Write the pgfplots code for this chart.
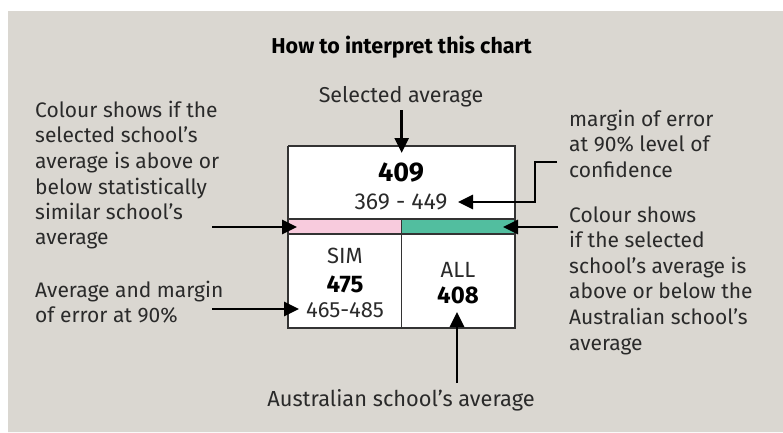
\documentclass[border=0pt]{standalone}
\usepackage{pgfplots}
\pgfplotsset{compat=1.18}
\usepackage{fontspec}
\setmainfont{Fira Sans}
\usetikzlibrary{arrows.meta}
\definecolor{bg}{HTML}{DAD7D1}
\definecolor{pinkc}{HTML}{F8CBDD}
\definecolor{greenc}{HTML}{52BE9F}
\definecolor{txt}{HTML}{2A2A2A}
\definecolor{boxline}{HTML}{333333}
\tikzset{lt/.style={anchor=base west,font=\fontsize{21}{25}\selectfont,inner sep=0pt,text=txt},
  ct/.style={anchor=base,inner sep=0pt,text=txt}}
\pgfplotsset{arr/.style={black,line width=2.8pt,-{Triangle[length=15pt,width=14pt]}}}
\begin{document}
\begin{tikzpicture}
\begin{axis}[width=783pt,height=432pt,scale only axis,hide axis,
  xmin=0,xmax=783,ymin=0,ymax=432,y dir=reverse,clip=false]
% page and panel
\addplot[fill=white,draw=none] coordinates {(0,0)(783,0)(783,432)(0,432)(0,0)};
\addplot[fill=bg,draw=none] coordinates {(8,11)(783,11)(783,432)(8,432)(8,11)};
% box
\addplot[fill=white,draw=none] coordinates {(288,146)(515,146)(515,328)(288,328)(288,146)};
\addplot[fill=pinkc,draw=none] coordinates {(288,219)(401.7,219)(401.7,234)(288,234)(288,219)};
\addplot[fill=greenc,draw=none] coordinates {(401.7,219)(515,219)(515,234)(401.7,234)(401.7,219)};
\addplot[draw=boxline,line width=1.3pt] coordinates {(288,146)(515,146)(515,328)(288,328)(288,146)};
\addplot[draw=boxline,line width=1.3pt] coordinates {(288,219)(515,219)};
\addplot[draw=boxline,line width=1.3pt] coordinates {(288,234)(515,234)};
\addplot[draw=boxline,line width=1.3pt] coordinates {(401.7,219)(401.7,328)};
% arrows
\addplot[arr] coordinates {(401.7,110)(401.7,153)};
\addplot[arr] coordinates {(557,162)(535,162)(535,202)(458,202)};
\addplot[arr] coordinates {(212,227)(297,227)};
\addplot[arr] coordinates {(558,227)(503,227)};
\addplot[arr] coordinates {(212,309)(299,309)};
\addplot[arr] coordinates {(457,383)(457,312)};
% texts
\node[ct,font=\fontsize{21.5}{25}\selectfont\bfseries,text=black] at (axis cs:401.5,53) {How to interpret this chart};
\node[ct,font=\fontsize{21.5}{25}\selectfont] at (axis cs:401,102) {Selected average};
\node[ct,font=\fontsize{21.8}{25}\selectfont] at (axis cs:401,406) {Australian school’s average};
% box texts
\node[ct,font=\fontsize{27}{30}\selectfont\bfseries,text=black] at (axis cs:401,181) {409};
\node[ct,font=\fontsize{23}{26}\selectfont] at (axis cs:401,209) {369 - 449};
\node[ct,font=\fontsize{22}{26}\selectfont] at (axis cs:345,263) {SIM};
\node[ct,font=\fontsize{24}{26}\selectfont\bfseries,text=black] at (axis cs:345,292) {475};
\node[ct,font=\fontsize{22}{26}\selectfont] at (axis cs:345,317) {465-485};
\node[ct,font=\fontsize{22}{26}\selectfont] at (axis cs:458,277) {ALL};
\node[ct,font=\fontsize{24}{26}\selectfont\bfseries,text=black] at (axis cs:458,303) {408};
% left texts
\node[lt] at (axis cs:35,117) {Colour shows if the};
\node[lt] at (axis cs:35,142.5) {selected school’s};
\node[lt] at (axis cs:35,168) {average is above or};
\node[lt] at (axis cs:35,194) {below statistically};
\node[lt] at (axis cs:35,219) {similar school’s};
\node[lt] at (axis cs:35,244) {average};
\node[lt] at (axis cs:35,297) {Average and margin};
\node[lt] at (axis cs:35,322) {of error at 90\%};
% right texts
\node[lt] at (axis cs:569,126) {margin of error};
\node[lt] at (axis cs:569,151.5) {at 90\% level of};
\node[lt] at (axis cs:569,177) {confidence};
\node[lt] at (axis cs:569,222) {Colour shows};
\node[lt] at (axis cs:569,247.5) {if the selected};
\node[lt] at (axis cs:569,273) {school’s average is};
\node[lt] at (axis cs:569,298.5) {above or below the};
\node[lt] at (axis cs:569,324) {Australian school’s};
\node[lt] at (axis cs:569,350) {average};
\end{axis}
\end{tikzpicture}
\end{document}
